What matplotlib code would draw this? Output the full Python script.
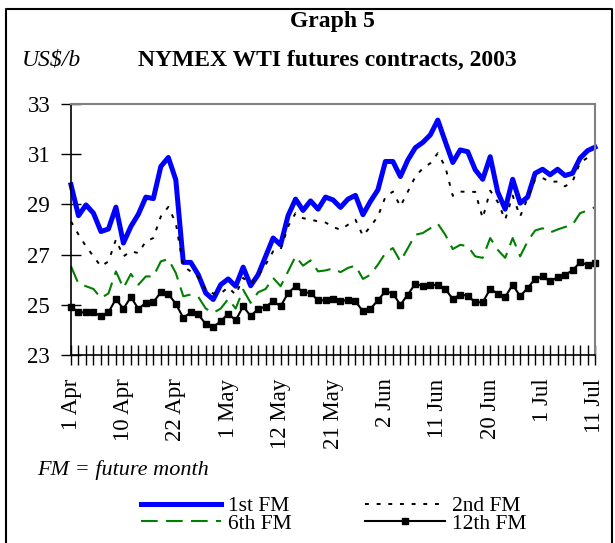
import pandas as pd
import matplotlib
matplotlib.use('Agg')
import matplotlib.pyplot as plt
from matplotlib.lines import Line2D

plt.rcParams['font.family'] = ['Liberation Serif', 'DejaVu Serif']

# NYMEX trading days 1 Apr - 11 Jul 2003
days = pd.bdate_range('2003-04-01', '2003-07-11', freq='C',
                      holidays=['2003-04-18', '2003-05-26', '2003-07-04'])
shown_labels = ['1 Apr', '10 Apr', '22 Apr', '1 May', '12 May', '21 May',
                '2 Jun', '11 Jun', '20 Jun', '1 Jul', '11 Jul']

fm1 = [29.78, 28.55, 28.98, 28.65, 27.92, 28.02, 28.89, 27.46, 28.12, 28.61,
       29.29, 29.23, 30.51, 30.87, 29.98, 26.69, 26.69, 26.20, 25.47, 25.21,
       25.80, 26.03, 25.74, 26.50, 25.76, 26.20, 26.93, 27.66, 27.39, 28.55,
       29.21, 28.76, 29.14, 28.81, 29.29, 29.18, 28.88, 29.21, 29.36, 28.59,
       29.12, 29.58, 30.71, 30.71, 30.11, 30.77, 31.26, 31.47, 31.77, 32.36,
       31.50, 30.67, 31.17, 31.10, 30.38, 30.00, 30.90, 29.50, 28.81, 30.00,
       29.05, 29.29, 30.24, 30.40, 30.18, 30.40, 30.15, 30.24, 30.84, 31.14,
       31.28]
fm2 = [28.32, 27.80, 27.33, 26.93, 26.53, 26.73, 27.60, 26.93, 27.13, 27.06,
       27.53, 27.66, 28.52, 28.90, 28.26, 26.53, 26.33, 26.10, 25.60, 25.45,
       25.45, 25.70, 25.40, 26.07, 25.85, 26.15, 26.60, 27.13, 27.20, 28.12,
       28.65, 28.45, 28.40, 28.32, 28.28, 28.10, 27.99, 28.19, 28.39, 27.75,
       28.12, 28.52, 29.30, 29.51, 28.92, 29.51, 30.11, 30.44, 30.64, 31.04,
       30.50, 29.34, 29.51, 29.50, 29.50, 28.45, 29.55, 29.10, 28.39, 29.35,
       28.52, 29.25, 29.98, 30.05, 29.90, 29.91, 29.72, 29.91, 30.66, 30.86,
       31.00]
fm6 = [26.53, 25.84, 25.74, 25.63, 25.27, 25.45, 26.33, 25.67, 26.23, 25.80,
       26.13, 26.13, 26.73, 26.82, 26.27, 25.34, 25.41, 25.32, 24.85, 24.68,
       24.85, 25.23, 24.85, 25.60, 25.08, 25.50, 25.63, 26.07, 25.74, 26.33,
       26.93, 26.56, 26.77, 26.33, 26.37, 26.45, 26.30, 26.47, 26.56, 26.03,
       26.20, 26.60, 27.06, 27.26, 26.73, 27.26, 27.79, 27.86, 28.05, 28.23,
       27.79, 27.22, 27.39, 27.33, 26.93, 26.87, 27.66, 27.19, 26.87, 27.66,
       26.93, 27.53, 27.96, 28.05, 27.88, 28.00, 28.10, 28.19, 28.65, 28.76,
       28.89]
fm12 = [24.92, 24.70, 24.70, 24.70, 24.55, 24.70, 25.23, 24.84, 25.31, 24.84,
        25.08, 25.10, 25.50, 25.43, 25.04, 24.48, 24.70, 24.62, 24.23, 24.12,
        24.34, 24.65, 24.38, 24.94, 24.55, 24.84, 24.92, 25.14, 24.94, 25.47,
        25.74, 25.50, 25.47, 25.18, 25.18, 25.23, 25.14, 25.20, 25.14, 24.74,
        24.84, 25.18, 25.54, 25.45, 25.00, 25.41, 25.84, 25.74, 25.77, 25.80,
        25.63, 25.23, 25.41, 25.36, 25.10, 25.10, 25.63, 25.45, 25.31, 25.80,
        25.34, 25.67, 26.03, 26.13, 25.93, 26.10, 26.20, 26.37, 26.69, 26.60,
        26.67]

x = list(range(len(days)))
names = ['%d %s' % (d.day, d.strftime('%b')) for d in days]
tick_text = [n if n in shown_labels else '' for n in names]

fig = plt.figure(figsize=(6.15, 5.43), dpi=100)
W, H = 615.0, 543.0
ax = fig.add_axes([71 / W, 1 - 355 / H, (595 - 71) / W, (355 - 104) / H])

l1, = ax.plot(x, fm1, color='#0000ff', lw=3.6, label='1st FM', clip_on=False)
l2, = ax.plot(x, fm2, color='black', lw=1.4, ls=(0, (2, 4)), label='2nd FM', clip_on=False)
l6, = ax.plot(x, fm6, color='#008000', lw=1.5, ls=(0, (8, 4)), label='6th FM', clip_on=False)
l12, = ax.plot(x, fm12, color='black', lw=1.5, marker='s', ms=4.7, label='12th FM', clip_on=False)

ax.set_xlim(0, len(x) - 1)
ax.set_ylim(23, 33)
ax.set_yticks(range(23, 34, 2))
ax.set_xticks(x)
ax.set_xticklabels(tick_text, rotation=90)
ax.tick_params(axis='both', direction='inout', length=14, width=1, labelsize=16.5)
ax.tick_params(axis='x', pad=10)
ax.tick_params(axis='y', pad=8)
for s in ['top', 'right']:
    ax.spines[s].set_color('#808080')
    ax.spines[s].set_linewidth(1.5)
for s in ['left', 'bottom']:
    ax.spines[s].set_linewidth(1.2)

fig.text(332 / W, 1 - 22 / H, 'Graph 5', ha='center', va='center',
         fontsize=17, fontweight='bold')
fig.text(327 / W, 1 - 60 / H, 'NYMEX WTI futures contracts, 2003', ha='center',
         va='center', fontsize=17, fontweight='bold')
fig.text(22 / W, 1 - 60 / H, 'US$/b', ha='left', va='center', fontsize=17, style='italic')
fig.text(37 / W, 1 - 470 / H, 'FM = future month', ha='left', va='center',
         fontsize=16, style='italic')

fig.legend(handles=[l1, l6, l2, l12], ncol=2, loc='upper left',
           bbox_to_anchor=(141 / W, 1 - 496 / H), frameon=False, fontsize=15.5,
           handlelength=3.7, handletextpad=0.35, columnspacing=3.4,
           labelspacing=-0.1, borderpad=0, borderaxespad=0, numpoints=1)

# outer frame (no bottom edge)
fig.add_artist(Line2D([6 / W, 6 / W, 612 / W, 612 / W], [0, 1 - 9 / H, 1 - 9 / H, 0],
                      transform=fig.transFigure, color='black', lw=1.5))

fig.savefig('out.png', dpi=100)
